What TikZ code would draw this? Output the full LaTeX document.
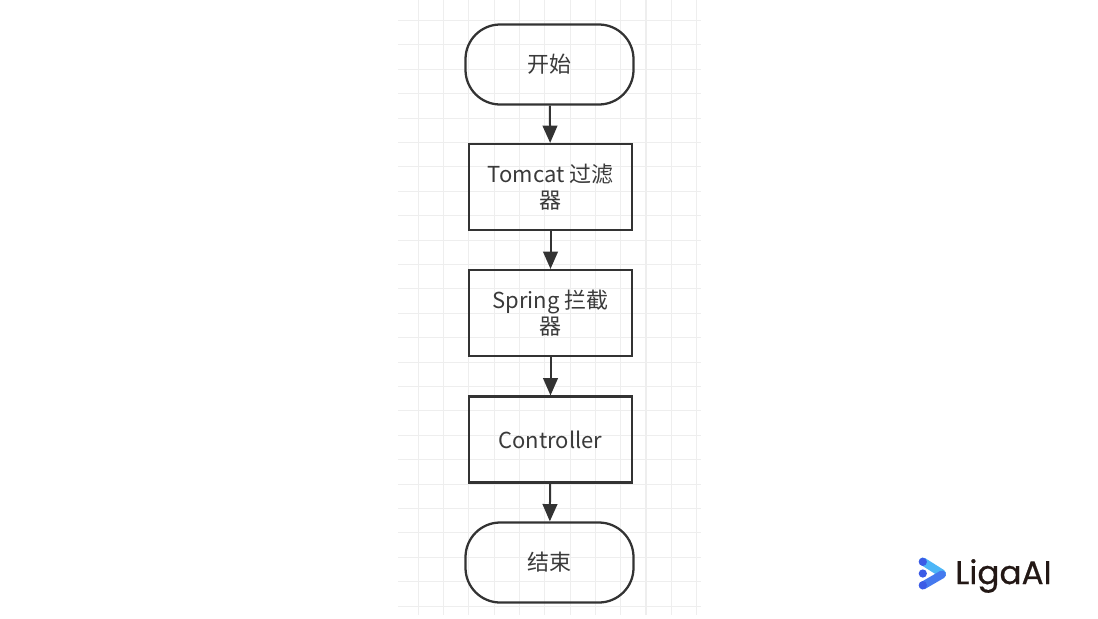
\documentclass[tikz,border=0pt]{standalone}
\usepackage{fontspec}
\setmainfont{Noto Sans CJK SC}
\newfontfamily\logofont{Poppins}[FakeBold=0.6]
\usepackage{xcolor}
\usepackage{tikz}
\usetikzlibrary{shapes}
\usetikzlibrary{arrows.meta}
\definecolor{inkgray}{HTML}{333333}
\definecolor{textgray}{HTML}{3A3A3A}
\definecolor{gridgray}{HTML}{EEEEEE}
\definecolor{logoink}{HTML}{231815}
\definecolor{logolight}{HTML}{4DB6F7}
\definecolor{logoblue}{HTML}{4579EE}
\definecolor{logodot}{HTML}{3B5BE6}
\tikzset{
    terminal/.style = {draw = inkgray, line width = 1.7pt, rounded corners = 26pt,
        minimum width = 126pt, minimum height = 60pt, text = textgray,
        font = \fontsize{16.5pt}{19.5pt}\selectfont},
    process/.style = {draw = inkgray, line width = 1.6pt,
        minimum width = 122pt, minimum height = 64.5pt, text = textgray,
        align = center, font = \fontsize{16.5pt}{19.5pt}\selectfont},
    flow/.style = {draw = inkgray, line width = 1.5pt,
        -{Triangle[length = 13pt, width = 11pt]}},
    gridline/.style = {draw = gridgray, line width = 0.8pt}
}
\begin{document}
\begin{tikzpicture}[x = 0.75pt, y = -0.75pt]
        \useasboundingbox (0, 0) rectangle (1098, 618);

        \foreach \k in {0, ..., 11}
            \draw[gridline] (418.3 + 25.3 * \k, 0) -- (418.3 + 25.3 * \k, 615);
        \foreach \k in {0, ..., 24}
            \draw[gridline] (398, 20.5 + 24.4 * \k) -- (701, 20.5 + 24.4 * \k);

        \node[terminal] (start) at (549.5, 64.5) {开始};
        \node[process] (tomcat) at (550.5, 187) {Tomcat 过滤\\器};
        \node[process] (spring) at (550.5, 313) {Spring 拦截\\器};
        \node[process] (controller) at (550.5, 439.5) {Controller};
        \node[terminal] (finish) at (549.5, 562.5) {结束};

        \draw[flow] (start) -- (tomcat);
        \draw[flow] (tomcat) -- (spring);
        \draw[flow] (spring) -- (controller);
        \draw[flow] (controller) -- (finish);

        \draw[line width = 6pt, line cap = round, color = logolight] (923, 561.5) -- (942, 573.5);
        \draw[line width = 6pt, line cap = round, color = logoblue] (942, 574.5) -- (923, 585.5);
        \fill[logodot] (922.8, 561.8) circle (3.1pt)
            (922.8, 573.5) circle (3.1pt)
            (922.8, 585.2) circle (3.1pt);
        \node[anchor = base west, inner sep = 0pt, text = logoink,
            font = \logofont\fontsize{24.5pt}{24.5pt}\selectfont] (logo) at (955, 584) {LigaAI};
\end{tikzpicture}
\end{document}
